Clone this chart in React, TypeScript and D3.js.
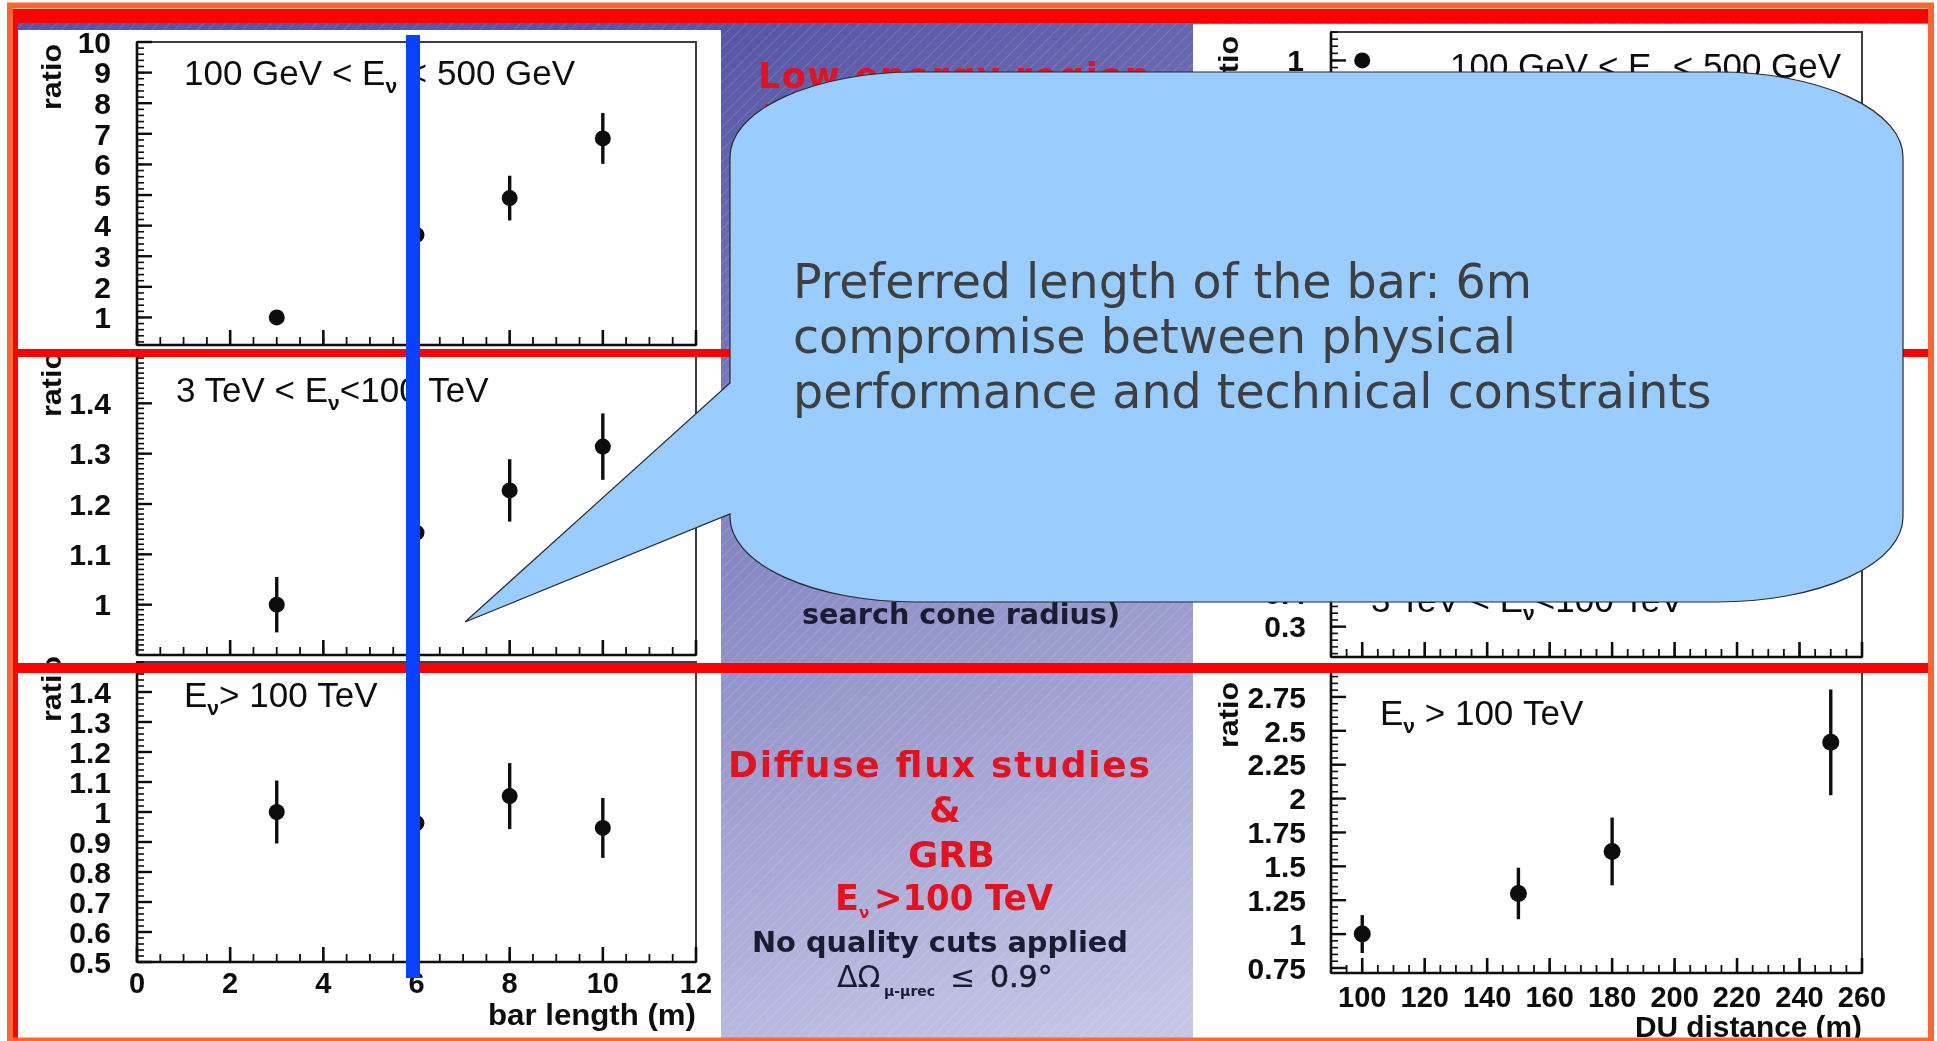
import React from "react";
import * as d3 from "d3";

const W = 1937;
const H = 1041;

// Bar length scan (m) and muon-rate ratios for three neutrino energy bands
const barLength = [3, 6, 8, 10];
const ratioLowE = [1.0, 3.7, 4.9, 6.85];
const errLowE = [0, 0.6, 0.73, 0.83];
const ratioMidE = [1.0, 1.143, 1.227, 1.314];
const errMidE = [0.055, 0.05, 0.062, 0.066];
const ratioHighE = [1.0, 0.963, 1.053, 0.947];
const errHighE = [0.105, 0.1, 0.11, 0.1];

// Detection-unit distance scan (m)
const duDistanceLowE = [100];
const duRatioLowE = [1.0];
const duErrLowE = [0];
const duDistance = [100, 150, 180, 250];
const duRatioHighE = [1.0, 1.3, 1.61, 2.415];
const duErrHighE = [0.14, 0.19, 0.25, 0.39];

// Tick labels
const barTicks = [0, 2, 4, 6, 8, 10, 12];
const duTicks = [100, 120, 140, 160, 180, 200, 220, 240, 260];
const lowETicks = [1, 2, 3, 4, 5, 6, 7, 8, 9, 10];
const midETicks = [1, 1.1, 1.2, 1.3, 1.4];
const highETicks = [0.5, 0.6, 0.7, 0.8, 0.9, 1, 1.1, 1.2, 1.3, 1.4];
const duLowETicks = [1];
const duMidETicks = [0.3, 0.4];
const duHighETicks = [0.75, 1, 1.25, 1.5, 1.75, 2, 2.25, 2.5, 2.75];

const preferredLength = 6;

const RED = "#e5121e";
const DARK = "#1c1c30";
const HELV = "'Liberation Sans', Arial, Helvetica, sans-serif";
const DEJAVU = "'DejaVu Sans', Verdana, sans-serif";

type Piece = { t: string; sub?: boolean };

type PlotProps = {
  x: d3.ScaleLinear<number, number>;
  y: d3.ScaleLinear<number, number>;
  xMajor: number[];
  xMinorStep: number;
  yMajor: number[];
  yMinorStep: number;
  labelGap: number;
  xLabelY?: number;
  xTitle?: string;
  xTitleY?: number;
  xTitleLen?: number;
  ratioX: number;
  ratioY: number;
  title: Piece[];
  titleX: number;
  titleY: number;
  px: number[];
  py: number[];
  pe: number[];
  r: number;
};

function steps(d0: number, d1: number, s: number): number[] {
  const out: number[] = [];
  const lo = Math.min(d0, d1);
  const hi = Math.max(d0, d1);
  for (let i = Math.ceil(lo / s - 1e-9); i * s <= hi + 1e-9; i++) out.push(+(i * s).toFixed(6));
  return out;
}

function Plot(p: PlotProps) {
  const [xl, xr] = p.x.range();
  const [yb, yt] = p.y.range();
  const [xd0, xd1] = p.x.domain();
  const [yd0, yd1] = p.y.domain();
  const ink = "#111";
  return (
    <g filter="url(#soft)">
      <rect x={xl} y={yt} width={xr - xl} height={yb - yt} fill="none" stroke="#3c3c3c" strokeWidth={2} />
      <line x1={xl} x2={xl} y1={yt} y2={yb} stroke={ink} strokeWidth={2.6} />
      <line x1={xl} x2={xr} y1={yb} y2={yb} stroke={ink} strokeWidth={2.6} />
      {steps(yd0, yd1, p.yMinorStep).map((v) => (
        <line key={"ym" + v} x1={xl} x2={xl + 7} y1={p.y(v)} y2={p.y(v)} stroke={ink} strokeWidth={1.6} />
      ))}
      {p.yMajor.map((v) => (
        <line key={"yM" + v} x1={xl} x2={xl + 15} y1={p.y(v)} y2={p.y(v)} stroke={ink} strokeWidth={2.4} />
      ))}
      {p.yMajor.map((v) => (
        <text
          key={"yl" + v}
          x={xl - p.labelGap}
          y={p.y(v)}
          dy="0.36em"
          textAnchor="end"
          fontFamily={HELV}
          fontWeight={700}
          fontSize={30}
          fill={ink}
        >
          {String(v)}
        </text>
      ))}
      {steps(xd0, xd1, p.xMinorStep).map((v) => (
        <line key={"xm" + v} x1={p.x(v)} x2={p.x(v)} y1={yb} y2={yb - 8} stroke={ink} strokeWidth={1.8} />
      ))}
      {p.xMajor.map((v) => (
        <line key={"xM" + v} x1={p.x(v)} x2={p.x(v)} y1={yb} y2={yb - 15} stroke={ink} strokeWidth={2.6} />
      ))}
      {p.xLabelY !== undefined &&
        p.xMajor.map((v) => (
          <text
            key={"xl" + v}
            x={p.x(v)}
            y={p.xLabelY}
            textAnchor="middle"
            fontFamily={HELV}
            fontWeight={700}
            fontSize={29}
            fill={ink}
          >
            {String(v)}
          </text>
        ))}
      {p.xTitle && (
        <text
          x={xr}
          y={p.xTitleY}
          textAnchor="end"
          fontFamily={HELV}
          fontWeight={700}
          fontSize={29}
          fill={ink}
          textLength={p.xTitleLen}
          lengthAdjust="spacingAndGlyphs"
        >
          {p.xTitle}
        </text>
      )}
      <text
        transform={`translate(${p.ratioX},${p.ratioY}) rotate(-90)`}
        fontFamily={HELV}
        fontWeight={700}
        fontSize={27}
        fill={ink}
        textLength={66}
        lengthAdjust="spacingAndGlyphs"
      >
        ratio
      </text>
      <text x={p.titleX} y={p.titleY} fontFamily={HELV} fontSize={35} fill={ink} style={{ whiteSpace: "pre" }}>
        {p.title.map((pc, i) => {
          const dy = pc.sub ? 8 : i > 0 && p.title[i - 1].sub ? -8 : 0;
          return (
            <tspan key={i} dy={dy} fontSize={pc.sub ? 21 : 35} fontWeight={pc.sub ? 700 : 400}>
              {pc.t}
            </tspan>
          );
        })}
      </text>
      {p.px.map((xv, i) => (
        <g key={"pt" + i}>
          {p.pe[i] > 0 && (
            <line
              x1={p.x(xv)}
              x2={p.x(xv)}
              y1={p.y(p.py[i] + p.pe[i])}
              y2={p.y(p.py[i] - p.pe[i])}
              stroke={ink}
              strokeWidth={3.4}
            />
          )}
          <circle cx={p.x(xv)} cy={p.y(p.py[i])} r={p.r} fill={ink} />
        </g>
      ))}
    </g>
  );
}

export default function App() {
  // Left column: ratio versus bar length
  const xBar = d3.scaleLinear().domain([0, 12]).range([137, 696]);
  const yLow = d3.scaleLinear().domain([0.1, 10]).range([345, 42]);
  const yMid = d3.scaleLinear().domain([0.9, 1.5]).range([655, 353]);
  const yHigh = d3.scaleLinear().domain([0.5, 1.5]).range([962, 662]);

  // Right column: ratio versus DU distance
  const xDu = d3.scaleLinear().domain([90, 260]).range([1331, 1862]);
  const yDuLow = d3.scaleLinear().domain([0.2, 1.08]).range([345, 32]);
  const yDuMid = d3.scaleLinear().domain([0.21, 1.1]).range([657, 357]);
  const yDuHigh = d3.scaleLinear().domain([0.713, 2.934]).range([973, 672]);

  const blueX = xBar(preferredLength) - 3.5;

  const callout =
    "M 730 383 L 730 157 A 185 85 0 0 1 915 72 L 1718 72 A 185 85 0 0 1 1903 157 " +
    "L 1903 517 A 185 85 0 0 1 1718 602 L 915 602 A 185 85 0 0 1 730 517 L 730 514 L 465 622 Z";

  return (
    <svg
      width={W}
      height={H}
      viewBox={`0 0 ${W} ${H}`}
      style={{ position: "absolute", left: 0, top: 0, display: "block" }}
    >
      <defs>
        <linearGradient id="slideBg" gradientUnits="userSpaceOnUse" x1={721} y1={30} x2={1080} y2={1040}>
          <stop offset="0" stopColor="#5656a6" />
          <stop offset="0.5" stopColor="#8a8bc5" />
          <stop offset="1" stopColor="#c4c6e6" />
        </linearGradient>
        <pattern id="hatch" width={8} height={8} patternUnits="userSpaceOnUse" patternTransform="rotate(45)">
          <line x1={0} y1={0} x2={0} y2={8} stroke="#ffffff" strokeOpacity={0.13} strokeWidth={2} />
        </pattern>
        <filter id="soft" x="-5%" y="-5%" width="110%" height="110%">
          <feGaussianBlur stdDeviation={0.6} />
        </filter>
      </defs>

      <rect x={0} y={0} width={W} height={H} fill="#ffffff" />

      {/* slide background */}
      <rect x={13} y={9} width={1919} height={1031} fill="url(#slideBg)" />
      <rect x={13} y={9} width={1919} height={1031} fill="url(#hatch)" />

      {/* white plot panels */}
      <rect x={18} y={30} width={703} height={1010} fill="#ffffff" />
      <rect x={1193} y={24} width={735} height={1016} fill="#ffffff" />

      {/* bar-length plots */}
      <Plot
        x={xBar}
        y={yLow}
        xMajor={barTicks}
        xMinorStep={0.5}
        yMajor={lowETicks}
        yMinorStep={0.2}
        labelGap={26}
        ratioX={61}
        ratioY={110}
        title={[{ t: "100 GeV < E" }, { t: "ν", sub: true }, { t: " < 500 GeV" }]}
        titleX={184}
        titleY={85}
        px={barLength}
        py={ratioLowE}
        pe={errLowE}
        r={8}
      />
      <Plot
        x={xBar}
        y={yMid}
        xMajor={barTicks}
        xMinorStep={0.5}
        yMajor={midETicks}
        yMinorStep={0.01}
        labelGap={26}
        ratioX={61}
        ratioY={417}
        title={[{ t: "3 TeV < E" }, { t: "ν", sub: true }, { t: "<100 TeV" }]}
        titleX={176}
        titleY={402}
        px={barLength}
        py={ratioMidE}
        pe={errMidE}
        r={8}
      />
      <Plot
        x={xBar}
        y={yHigh}
        xMajor={barTicks}
        xMinorStep={0.5}
        yMajor={highETicks}
        yMinorStep={0.02}
        labelGap={26}
        xLabelY={993}
        xTitle="bar length (m)"
        xTitleY={1025}
        xTitleLen={208}
        ratioX={61}
        ratioY={722}
        title={[{ t: "E" }, { t: "ν", sub: true }, { t: "> 100 TeV" }]}
        titleX={184}
        titleY={707}
        px={barLength}
        py={ratioHighE}
        pe={errHighE}
        r={8}
      />

      {/* DU-distance plots */}
      <Plot
        x={xDu}
        y={yDuLow}
        xMajor={duTicks}
        xMinorStep={5}
        yMajor={duLowETicks}
        yMinorStep={0.02}
        labelGap={27}
        ratioX={1238}
        ratioY={102}
        title={[{ t: "100 GeV < E" }, { t: "ν", sub: true }, { t: " < 500 GeV" }]}
        titleX={1450}
        titleY={78}
        px={duDistanceLowE}
        py={duRatioLowE}
        pe={duErrLowE}
        r={8}
      />
      <Plot
        x={xDu}
        y={yDuMid}
        xMajor={duTicks}
        xMinorStep={5}
        yMajor={duMidETicks}
        yMinorStep={0.02}
        labelGap={25}
        ratioX={1238}
        ratioY={424}
        title={[{ t: "3 TeV < E" }, { t: "ν", sub: true }, { t: "<100 TeV" }]}
        titleX={1371}
        titleY={612}
        px={[]}
        py={[]}
        pe={[]}
        r={8}
      />
      <Plot
        x={xDu}
        y={yDuHigh}
        xMajor={duTicks}
        xMinorStep={5}
        yMajor={duHighETicks}
        yMinorStep={0.05}
        labelGap={25}
        xLabelY={1007}
        xTitle="DU distance (m)"
        xTitleY={1037}
        xTitleLen={227}
        ratioX={1238}
        ratioY={748}
        title={[{ t: "E" }, { t: "ν", sub: true }, { t: " > 100 TeV" }]}
        titleX={1380}
        titleY={725}
        px={duDistance}
        py={duRatioHighE}
        pe={duErrHighE}
        r={8.5}
      />

      {/* centre column captions */}
      <g fontFamily={DEJAVU} fontWeight={700}>
        <text x={758} y={88} fontSize={35} fill={RED} letterSpacing={1.5}>
          Low energy region
        </text>
        <text x={762} y={130} fontSize={35} fill={RED} letterSpacing={1.5}>
          Point sources
        </text>
        <text x={802} y={624} fontSize={28.5} fill={DARK} textLength={318} lengthAdjust="spacingAndGlyphs">
          search cone radius)
        </text>
        <text x={728} y={777} fontSize={36} fill={RED} textLength={422} lengthAdjust="spacing">
          Diffuse flux studies
        </text>
        <text x={945} y={822} fontSize={36} fill={RED} textAnchor="middle">
          &amp;
        </text>
        <text x={908} y={867} fontSize={36} fill={RED} textLength={87} lengthAdjust="spacingAndGlyphs">
          GRB
        </text>
        <text x={835} y={910} fontSize={35} fill={RED} style={{ whiteSpace: "pre" }}>
          <tspan>E</tspan>
          <tspan fontSize={15} dy={8}>
            ν
          </tspan>
          <tspan x={874} dy={-8} textLength={179} lengthAdjust="spacingAndGlyphs">
            {">100 TeV"}
          </tspan>
        </text>
        <text x={752} y={952} fontSize={28.5} fill={DARK} textLength={376} lengthAdjust="spacingAndGlyphs">
          No quality cuts applied
        </text>
        <text y={987} fontSize={30} fill={DARK} style={{ whiteSpace: "pre" }}>
          <tspan x={837} fontWeight={400}>
            ΔΩ
          </tspan>
          <tspan x={884} dy={9} fontSize={14}>
            μ-μrec
          </tspan>
          <tspan x={950} dy={-9} fontWeight={400}>
            ≤
          </tspan>
          <tspan x={990} fontWeight={400} stroke={DARK} strokeWidth={0.6}>
            0.9°
          </tspan>
        </text>
      </g>

      {/* red separators and frame */}
      <rect x={13} y={9} width={1919} height={14} fill="#ff0000" />
      <rect x={13} y={349} width={1919} height={8} fill="#ff0000" />
      <rect x={13} y={663} width={1919} height={10} fill="#ff0000" />
      <rect x={13} y={9} width={5} height={1030} fill="#ff0000" />
      <rect x={10} y={5.5} width={1921} height={1035} fill="none" stroke="#ff6633" strokeWidth={6} />

      {/* preferred bar length marker */}
      <rect x={blueX - 7} y={35} width={14} height={943} fill="#0842ff" />

      {/* callout */}
      <path d={callout} fill="#99ccff" stroke="#2a2a2a" strokeWidth={1.2} />
      <g fontFamily={DEJAVU} fontSize={47.5} fill="#3f3f3f">
        <text x={793} y={298}>
          Preferred length of the bar: 6m
        </text>
        <text x={793} y={353}>
          compromise between physical
        </text>
        <text x={793} y={408}>
          performance and technical constraints
        </text>
      </g>
    </svg>
  );
}
